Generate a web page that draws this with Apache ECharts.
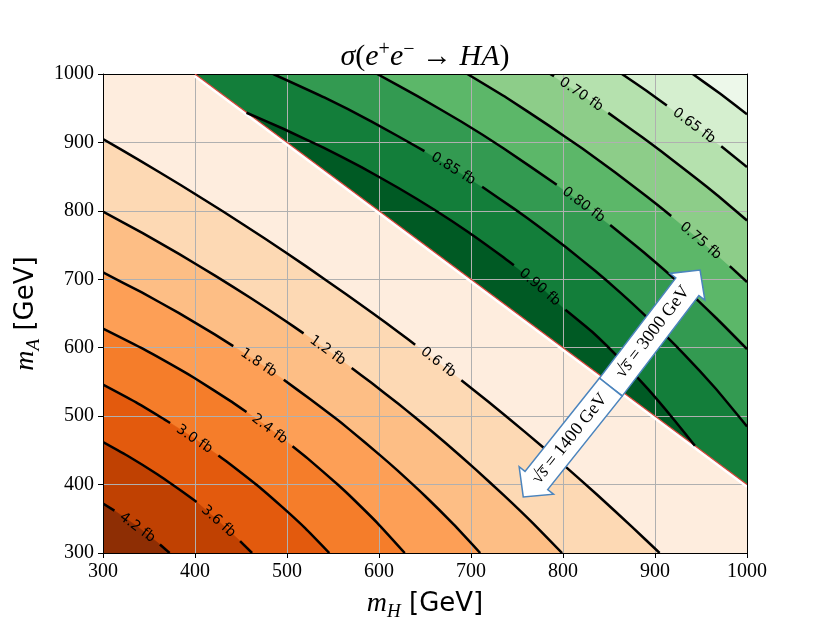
<!DOCTYPE html>
<html><head><meta charset="utf-8">
<script src="https://cdn.jsdelivr.net/npm/echarts@6/dist/echarts.min.js"></script>
<style>html,body{margin:0;padding:0;background:#fff}#chart{width:830px;height:623px}</style>
</head><body><div id="chart"></div>
<script>
// ---------------- data ----------------
const xTicks = [300, 400, 500, 600, 700, 800, 900, 1000];   // m_H [GeV]
const yTicks = [300, 400, 500, 600, 700, 800, 900, 1000];   // m_A [GeV]

// kinematic border m_H + m_A = 1400 GeV between the two regions
const boundary = [[400, 1000], [1000, 400]];

// sqrt(s) = 1400 GeV contours (orange), points [m_H, m_A].
// A null marks the label gap; points between two nulls sit under the label (fill only).
const orangeLevels = ['0.6 fb', '1.2 fb', '1.8 fb', '2.4 fb', '3.0 fb', '3.6 fb', '4.2 fb'];
const o06 = [[300,905],[337.9,875.3],[384.8,837.4],[431,798.7],[476.3,759.2],[520.9,718.9],[564.7,677.7],[593.6,650],[622,622],[639.3,604.3],null,[689.5,552.5],[718.9,520.9],[759.2,476.3],[798.7,431],[837.4,384.8],[875.3,337.9],[905,300]];
const o12 = [[300,799],[343.2,767.5],[383,736.7],[422.2,705],[460.5,672.7],[498,639.4],[518,621],null,[549,591.4],null,[570.3,570.3],[591.4,549],[621,518],[639.4,498],[672.7,460.5],[705,422.2],[736.7,383],[767.5,343.2],[799,300]];
const o18 = [[300,710],[341.7,681.1],[382.2,650.9],[421.4,619.4],[441.6,602.3],null,[481.8,566.7],null,[496.5,553.1],[525,525],[553.1,496.5],[566.7,481.8],[602.3,441.6],[619.4,421.4],[650.9,382.2],[681.1,341.7],[710,300]];
const o24 = [[300,628],[343.7,598.3],[384,568],[399.8,555.4],[437.9,522.7],[456,506],null,[481.5,481.5],null,[506,456],[522.7,437.9],[555.4,399.8],[568,384],[598.3,343.7],[628,300]];
const o30 = [[300,546],[336,520],[367,495],[373,490],null,[398,468.5],null,[425.4,442.5],[434,434],[442.5,425.4],[468.5,398],[495,367],[520,336],[546,300]];
const o36 = [[300,462],[328,441],[359,415],[388,388],[401.8,374.5],null,[425,347],null,[449,317.5],[462,300]];
const o42 = [[300,372.4],[312.4,361.9],null,[338,338],null,[361.9,312.4],[372.4,300]];

// sqrt(s) = 3000 GeV contours (green)
const greenLevels = ['', '0.65 fb', '0.70 fb', '0.75 fb', '0.80 fb', '0.85 fb', '0.90 fb'];
const g60 = [[941,1000],[971,971],[1000,941]];
const g65 = [[864,1000],[890.7,975.5],[912.9,954],null,[940.6,926.5],null,[972,894.3],[1000,864]];
const g70 = [[786,1000],[790.2,996.7],null,[820.9,969.4],null,[849.2,943.2],[875.5,917.9],[896.9,896.9],[917.9,875.5],[943.2,849.2],[969.4,820.9],[1000,786]];
const g75 = [[696,1000],[738.7,965.2],[783.9,925.3],[820.7,891.4],[856.5,856.5],[891.4,820.7],[917.6,792.6],null,[945.4,761.6],null,[981.3,719.2],[1000,696]];
const g80 = [[598,1000],[642.3,967.3],[689.7,930.2],[735.6,891.2],[793.2,838.2],null,[815.9,815.9],null,[851.3,779.3],[891.2,735.6],[930.2,689.7],[967.3,642.3],[1000,598]];
const g85 = [[485,1000],[541.1,965.4],[591.5,930.9],[649.4,887.4],null,[680.9,862],null,[712.1,835.2],[746.7,803.3],[775.4,775.4],[803.3,746.7],[835.2,712.1],[862,680.9],[887.4,649.4],[930.9,591.5],[965.4,541.1],[1000,485]];
const g90 = [[456,943.4],[495.9,920],[539.1,892.7],[580.9,863.8],[621.2,833.4],[660.2,801.6],[697.7,768.4],[733.7,733.7],[746.6,720.6],null,[775.1,690.2],null,[802.6,655.5],[833.4,621.2],[863.8,580.9],[892.7,539.1],[920,495.9],[943.4,456.6]];

// annotation arrows (data coordinates)
const arrowCenter = [852, 542.4];
const tip3000 = [949, 713.5];
const tip1400 = [756.8, 382];
const arrowTexts = ['3000', '1400'];

// ---------------- styles ----------------
const orangeColors = ['#feedde','#fdd9b4','#fdbe85','#fd9f56','#f57d2a','#e35a0d','#c04102','#8e2e04'];
const greenColors  = ['#edf8ea','#d5efcf','#b5e1ae','#8dcd89','#5cb769','#339a51','#137e3a','#005a24'];

const orangeContours = [o06, o12, o18, o24, o30, o36, o42];
const greenContours = [g60, g65, g70, g75, g80, g85, g90];
const X0 = xTicks[0], X1 = xTicks[xTicks.length - 1];
const Y0 = yTicks[0], Y1 = yTicks[yTicks.length - 1];

function splitParts(arr) {
  const parts = [[]];
  arr.forEach(p => { if (p === null) parts.push([]); else parts[parts.length - 1].push(p); });
  return parts;
}

function renderFills(params, api) {
  const ch = [];
  const poly = (pts, fill) => ch.push({
    type: 'polygon', shape: { points: pts.map(p => api.coord(p)) },
    style: { fill: fill, stroke: fill, lineWidth: 0.6 }
  });
  poly([[X0, Y0], [X0, Y1], boundary[0], boundary[1], [X1, Y0]], orangeColors[0]);
  orangeContours.forEach((c, i) => poly(c.filter(Boolean).concat([[X0, Y0]]), orangeColors[i + 1]));
  poly([boundary[0], [X1, Y1], boundary[1]], greenColors[7]);
  for (let i = greenContours.length - 1; i >= 0; i--) {
    const c = greenContours[i].filter(Boolean);
    const extra = (i === greenContours.length - 1) ? [boundary[1], [X1, Y1], boundary[0]] : [[X1, Y1]];
    poly(c.concat(extra), greenColors[i]);
  }
  return { type: 'group', children: ch };
}

function renderLines(params, api) {
  const ch = [];
  const b0 = api.coord(boundary[0]), b1 = api.coord(boundary[1]);
  ch.push({ type: 'line', shape: { x1: b0[0], y1: b0[1] + 2, x2: b1[0], y2: b1[1] + 2 }, style: { stroke: '#ffffff', lineWidth: 3 } });
  ch.push({ type: 'line', shape: { x1: b0[0], y1: b0[1], x2: b1[0], y2: b1[1] }, style: { stroke: '#d9463b', lineWidth: 1.2 } });
  const all = orangeContours.map((c, i) => ({ c: c, label: orangeLevels[i] }))
    .concat(greenContours.map((c, i) => ({ c: c, label: greenLevels[i] })));
  all.forEach(item => {
    const parts = splitParts(item.c);
    const vis = parts.length === 3 ? [parts[0], parts[2]] : parts;
    vis.forEach(p => {
      if (p.length > 1) ch.push({
        type: 'polyline', shape: { points: p.map(q => api.coord(q)), smooth: 0.15 },
        style: { stroke: '#000', lineWidth: 2.5, fill: null, lineJoin: 'round' }
      });
    });
    if (vis.length > 1 && item.label) {
      const a = api.coord(vis[0][vis[0].length - 1]), b = api.coord(vis[1][0]);
      ch.push({
        type: 'text', x: (a[0] + b[0]) / 2, y: (a[1] + b[1]) / 2,
        rotation: -Math.atan2(b[1] - a[1], b[0] - a[0]),
        style: { text: item.label, font: '14px "DejaVu Sans"', fill: '#000', align: 'center', verticalAlign: 'middle' }
      });
    }
  });
  return { type: 'group', children: ch };
}

function renderArrows(params, api) {
  const C = api.coord(arrowCenter);
  const ch = [];
  [[tip3000, arrowTexts[0]], [tip1400, arrowTexts[1]]].forEach(([tip, val]) => {
    const T = api.coord(tip);
    const dx = T[0] - C[0], dy = T[1] - C[1], L = Math.hypot(dx, dy);
    const ux = dx / L, uy = dy / L, nx = -uy, ny = ux;
    const bw = 14.5, hw = 22, hl = 21;
    const Hx = T[0] - ux * hl, Hy = T[1] - uy * hl;
    const pts = [[C[0] + nx * bw, C[1] + ny * bw], [Hx + nx * bw, Hy + ny * bw], [Hx + nx * hw, Hy + ny * hw],
      [T[0], T[1]], [Hx - nx * hw, Hy - ny * hw], [Hx - nx * bw, Hy - ny * bw], [C[0] - nx * bw, C[1] - ny * bw]];
    ch.push({ type: 'polygon', shape: { points: pts }, style: { fill: '#fff', stroke: '#4b84bd', lineWidth: 1.5 } });
    const rot = ux > 0 ? -Math.atan2(uy, ux) : -Math.atan2(-uy, -ux);
    ch.push({
      type: 'text', x: C[0] + ux * L * 0.47, y: C[1] + uy * L * 0.47, rotation: rot,
      style: {
        text: '{r|\u221a}{i|s\u0305}{r| = ' + val + ' GeV}',
        rich: { r: { font: '18px "Liberation Serif"', fill: '#000' }, i: { font: 'italic 18px "Liberation Serif"', fill: '#000' } },
        align: 'center', verticalAlign: 'middle', fill: '#000'
      }
    });
  });
  return { type: 'group', children: ch };
}

const nameRich = {
  m: { fontFamily: 'Liberation Serif', fontStyle: 'italic', fontWeight: 'normal', fontSize: 28, lineHeight: 34, verticalAlign: 'middle', color: '#000' },
  s: { fontFamily: 'Liberation Serif', fontStyle: 'italic', fontWeight: 'normal', fontSize: 19, lineHeight: 20, verticalAlign: 'bottom', color: '#000' },
  g: { fontFamily: 'DejaVu Sans', fontWeight: 'normal', fontSize: 26, lineHeight: 34, verticalAlign: 'middle', color: '#000' }
};

function valueAxis(pos, main, name) {
  const ticks = pos === 'bottom' || pos === 'top' ? xTicks : yTicks;
  const ax = {
    type: 'value', position: pos, min: ticks[0], max: ticks[ticks.length - 1], interval: ticks[1] - ticks[0], z: 2,
    axisLine: { show: true, onZero: false, lineStyle: { color: '#000', width: 1 } },
    axisTick: { show: main, length: 5, inside: false, lineStyle: { color: '#000', width: 1 } },
    axisLabel: { show: main, color: '#000', fontFamily: 'Liberation Serif', fontSize: 20, margin: 9, formatter: v => String(v) },
    splitLine: { show: main, lineStyle: { color: '#b0b0b0', width: 1 } }
  };
  if (name) {
    ax.name = name; ax.nameLocation = 'middle';
    ax.nameGap = (pos === 'bottom') ? 34 : 45;
    ax.nameTextStyle = { rich: nameRich };
  }
  return ax;
}

const chart = echarts.init(document.getElementById('chart'));
chart.setOption({
  animation: false,
  backgroundColor: '#fff',
  title: {
    text: '{i|\u03c3}{r|(}{i|e}{p|+}{i|e}{p|\u2212}{r| \u2192 }{i|HA}{r|)}',
    left: 425, top: 40, textAlign: 'center', padding: 0,
    textStyle: {
      fontWeight: 'normal',
      rich: {
        i: { fontFamily: 'Liberation Serif', fontStyle: 'italic', fontWeight: 'normal', fontSize: 30, lineHeight: 34, color: '#000' },
        r: { fontFamily: 'Liberation Serif', fontWeight: 'normal', fontSize: 30, lineHeight: 34, color: '#000' },
        p: { fontFamily: 'Liberation Serif', fontWeight: 'normal', fontSize: 20, lineHeight: 18, verticalAlign: 'top', color: '#000' }
      }
    }
  },
  grid: { left: 103, right: 83, top: 74, bottom: 70, containLabel: false, outerBoundsMode: 'none' },
  xAxis: [valueAxis('bottom', true, '{m|m}{s|H}{g| [GeV]}'), valueAxis('top', false)],
  yAxis: [valueAxis('left', true, '{m|m}{s|A}{g| [GeV]}'), valueAxis('right', false)],
  series: [
    { type: 'custom', coordinateSystem: 'cartesian2d', z: 1, clip: true, silent: true, renderItem: renderFills, data: [[X0, Y0]] },
    { type: 'custom', coordinateSystem: 'cartesian2d', z: 3, clip: true, silent: true, renderItem: renderLines, data: [[X0, Y0]] },
    { type: 'custom', coordinateSystem: 'cartesian2d', z: 4, clip: true, silent: true, renderItem: renderArrows, data: [arrowCenter] }
  ]
});
</script>
</body></html>
